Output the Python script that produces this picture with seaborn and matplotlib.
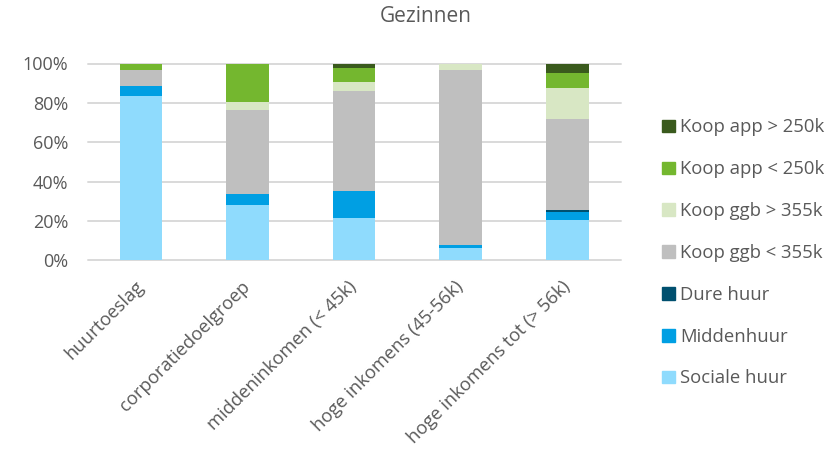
import matplotlib
matplotlib.use("Agg")
import matplotlib.pyplot as plt
import matplotlib.patches as mpatches
import numpy as np
import pandas as pd
import seaborn as sns

# Household groups on the x axis
categories = [
    "huurtoeslag",
    "corporatiedoelgroep",
    "middeninkomen (< 45k)",
    "hoge inkomens (45-56k)",
    "hoge inkomens tot (> 56k)",
]

# Housing segments, bottom to top of each stack (percent of households)
sociale_huur = [83.5, 28.1, 21.5, 6.4, 20.5]
middenhuur = [5.0, 5.8, 13.7, 1.2, 4.2]
dure_huur = [0.0, 0.0, 0.0, 0.0, 1.0]
koop_ggb_lt_355k = [8.0, 42.7, 50.6, 89.0, 46.0]
koop_ggb_gt_355k = [0.0, 3.9, 4.7, 3.4, 15.9]
koop_app_lt_250k = [3.5, 19.5, 7.3, 0.0, 7.7]
koop_app_gt_250k = [0.0, 0.0, 2.2, 0.0, 4.7]

segments = [
    "Sociale huur",
    "Middenhuur",
    "Dure huur",
    "Koop ggb < 355k",
    "Koop ggb > 355k",
    "Koop app < 250k",
    "Koop app > 250k",
]
segment_values = [
    sociale_huur,
    middenhuur,
    dure_huur,
    koop_ggb_lt_355k,
    koop_ggb_gt_355k,
    koop_app_lt_250k,
    koop_app_gt_250k,
]
colors = [
    "#8FDBFD",
    "#009FE3",
    "#00506F",
    "#BFBFBF",
    "#D8E7C4",
    "#74B72F",
    "#3A5A1D",
]

text_color = "#595959"
grid_color = "#D9D9D9"

# Long-form table of cumulative tops for the stacked bars
values = np.array(segment_values, dtype=float)
cumulative = np.cumsum(values, axis=0) / 100.0
rows = []
for seg, tops in zip(segments, cumulative):
    for cat, top in zip(categories, tops):
        rows.append({"groep": cat, "segment": seg, "top": top})
df = pd.DataFrame(rows)

sns.set_theme(style="white")
plt.rcParams["font.family"] = ["Open Sans", "DejaVu Sans"]

fig = plt.figure(figsize=(8.39, 4.53), dpi=100)
ax = fig.add_axes([87.75 / 839, 1 - 260.3 / 453, 532.75 / 839, 196.8 / 453])

# Draw the tallest cumulative layer first so lower layers paint over it
for seg, col in reversed(list(zip(segments, colors))):
    sub = df[df["segment"] == seg]
    sns.barplot(
        data=sub, x="groep", y="top", order=categories, color=col,
        width=0.4, saturation=1, ax=ax, errorbar=None, linewidth=0,
    )

ax.set_ylim(0, 1.0)
ax.set_xlim(-0.5, len(categories) - 0.5)
ax.set_yticks(np.arange(0, 1.01, 0.2))
ax.set_yticklabels([f"{int(round(t * 100))}%" for t in np.arange(0, 1.01, 0.2)])
ax.set_xlabel("")
ax.set_ylabel("")

ax.set_axisbelow(True)
ax.yaxis.grid(True, color=grid_color, linewidth=1.4)
for gl in ax.get_ygridlines():
    gl.set_clip_on(False)
for side in ["top", "right", "left", "bottom"]:
    ax.spines[side].set_visible(False)

ax.tick_params(axis="y", length=0, pad=14, labelsize=13, labelcolor=text_color)
ax.tick_params(axis="x", length=0, pad=17, labelsize=13.2, labelcolor=text_color)
for lbl in ax.get_xticklabels():
    lbl.set_rotation(45)
    lbl.set_ha("right")
    lbl.set_va("center")
    lbl.set_rotation_mode("anchor")

fig.text(426 / 839, 1 - 16 / 453, "Gezinnen", ha="center", va="center",
         fontsize=15, color=text_color)

handles = [mpatches.Patch(color=c, label=s) for s, c in zip(segments, colors)]
leg = fig.legend(
    handles=handles[::-1], loc="upper left",
    bbox_to_anchor=(662 / 839, 1 - 118.5 / 453),
    frameon=False, fontsize=13.3, labelcolor=text_color,
    handlelength=0.68, handleheight=0.68, handletextpad=0.3,
    labelspacing=1.29, borderaxespad=0, borderpad=0,
)

fig.savefig("out.png", dpi=100)
